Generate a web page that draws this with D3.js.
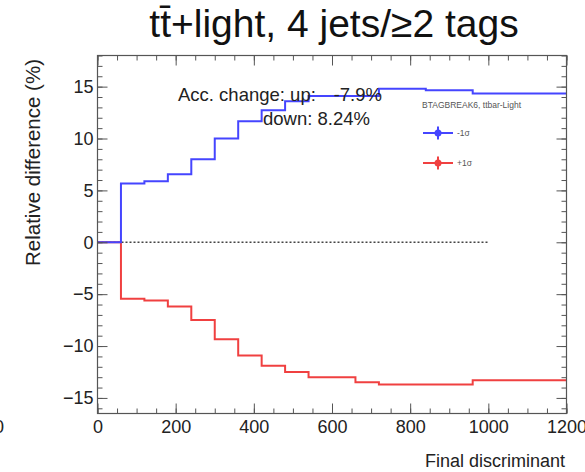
<!DOCTYPE html>
<html>
<head>
<meta charset="utf-8">
<script src="https://cdn.jsdelivr.net/npm/d3@7"></script>
<style>
  html, body { margin: 0; padding: 0; background: #fff; }
  svg { display: block; }
  text { font-family: "Liberation Sans", Arial, Helvetica, sans-serif; }
</style>
</head>
<body>
<svg id="chart" width="585" height="472"></svg>
<script>
// ---------- data ----------
const binEdges = [0, 60, 120, 180, 240, 300, 360, 420, 480, 540, 600, 660, 720, 780, 840, 900, 960, 1020, 1080, 1140, 1200];
const minusSigma = [0, 5.66, 5.88, 6.56, 8.0, 10.0, 11.67, 12.73, 13.6, 14.1, 14.1, 14.1, 14.8, 14.8, 14.65, 14.65, 14.35, 14.35, 14.35, 14.35];
const plusSigma  = [0, -5.43, -5.6, -6.2, -7.5, -9.35, -10.9, -11.9, -12.5, -13.0, -13.0, -13.5, -13.7, -13.7, -13.7, -13.7, -13.3, -13.3, -13.3, -13.3];
const xTicks = [0, 200, 400, 600, 800, 1000, 1200];
const yTicks = [-15, -10, -5, 0, 5, 10, 15];
const zeroLineRange = [0, 1000];
const titleText = "tt\u0304+light, 4 jets/\u22652 tags";
const xTitle = "Final discriminant";
const yTitle = "Relative difference (%)";
const accUpLabel = "Acc. change: up:";
const accUpValue = "-7.9%";
const accDownLabel = "down: 8.24%";
const legendTitle = "BTAGBREAK6, ttbar-Light";
const legendLabels = ["-1\u03c3", "+1\u03c3"];

// ---------- layout ----------
const L = 97.5, R = 566.5, T = 55.5, B = 413.5;
const svg = d3.select("#chart");
const x = d3.scaleLinear().domain([0, 1200]).range([L, R]);
const y = d3.scaleLinear().domain([-16.5, 18]).range([B, T]);
const blue = "#4545ff", red = "#f04040", axisCol = "#555";

// title
svg.append("text").attr("x", 334).attr("y", 37).attr("text-anchor", "middle")
  .attr("font-size", 39).attr("fill", "#111").text(titleText);

// zero dotted line
svg.append("line")
  .attr("x1", x(zeroLineRange[0])).attr("x2", x(zeroLineRange[1]))
  .attr("y1", y(0)).attr("y2", y(0))
  .attr("stroke", "#444").attr("stroke-width", 1.4).attr("stroke-dasharray", "2,2");

// step lines
function stepPts(vals) {
  const p = vals.map((v, i) => [binEdges[i], v]);
  p.push([binEdges[binEdges.length - 1], vals[vals.length - 1]]);
  return p;
}
const stepLine = d3.line().x(d => x(d[0])).y(d => y(d[1])).curve(d3.curveStepAfter);
svg.append("path").datum(stepPts(plusSigma)).attr("d", stepLine)
  .attr("fill", "none").attr("stroke", red).attr("stroke-width", 2);
svg.append("path").datum(stepPts(minusSigma)).attr("d", stepLine)
  .attr("fill", "none").attr("stroke", blue).attr("stroke-width", 2);

// axes
const xMinor = d3.range(0, 1201, 50);
const yMinor = d3.range(-16, 19, 1);
function styleAxis(g) {
  g.select(".domain").remove();
  g.selectAll(".tick line").attr("stroke", axisCol).attr("stroke-width", 1);
  g.selectAll("text").attr("fill", "#222").attr("font-size", 18);
}
// bottom major with labels
svg.append("g").attr("transform", `translate(0,${B})`)
  .call(d3.axisBottom(x).tickValues(xTicks).tickFormat(d3.format("d")).tickSizeInner(-10).tickSizeOuter(0).tickPadding(7))
  .call(styleAxis);
svg.append("g").attr("transform", `translate(0,${B})`)
  .call(d3.axisBottom(x).tickValues(xMinor).tickFormat("").tickSizeInner(-5).tickSizeOuter(0))
  .call(styleAxis);
// top
svg.append("g").attr("transform", `translate(0,${T})`)
  .call(d3.axisTop(x).tickValues(xTicks).tickFormat("").tickSizeInner(-10).tickSizeOuter(0))
  .call(styleAxis);
svg.append("g").attr("transform", `translate(0,${T})`)
  .call(d3.axisTop(x).tickValues(xMinor).tickFormat("").tickSizeInner(-5).tickSizeOuter(0))
  .call(styleAxis);
// left major with labels
svg.append("g").attr("transform", `translate(${L},0)`)
  .call(d3.axisLeft(y).tickValues(yTicks).tickFormat(d3.format("d")).tickSizeInner(-10).tickSizeOuter(0).tickPadding(4))
  .call(styleAxis);
svg.append("g").attr("transform", `translate(${L},0)`)
  .call(d3.axisLeft(y).tickValues(yMinor).tickFormat("").tickSizeInner(-5).tickSizeOuter(0))
  .call(styleAxis);
// right
svg.append("g").attr("transform", `translate(${R},0)`)
  .call(d3.axisRight(y).tickValues(yTicks).tickFormat("").tickSizeInner(-10).tickSizeOuter(0))
  .call(styleAxis);
svg.append("g").attr("transform", `translate(${R},0)`)
  .call(d3.axisRight(y).tickValues(yMinor).tickFormat("").tickSizeInner(-5).tickSizeOuter(0))
  .call(styleAxis);

// frame
svg.append("rect").attr("x", L).attr("y", T).attr("width", R - L).attr("height", B - T)
  .attr("fill", "none").attr("stroke", axisCol).attr("stroke-width", 1.2);

// axis titles
svg.append("text").attr("x", 565).attr("y", 467).attr("text-anchor", "end")
  .attr("font-size", 18).attr("fill", "#222").text(xTitle);
svg.append("text").attr("transform", "translate(40,162.5) rotate(-90)").attr("text-anchor", "middle")
  .attr("font-size", 20.5).attr("fill", "#222").text(yTitle);

// stray partial label at far left edge (as in the reference)
svg.append("text").attr("x", -6).attr("y", 433).attr("font-size", 18).attr("fill", "#222").text("0");

// annotations
svg.append("text").attr("x", 178).attr("y", 101).attr("font-size", 18.5).attr("fill", "#222").text(accUpLabel);
svg.append("text").attr("x", 382).attr("y", 101).attr("text-anchor", "end").attr("font-size", 18.5).attr("fill", "#222").text(accUpValue);
svg.append("text").attr("x", 263).attr("y", 125).attr("font-size", 18.5).attr("fill", "#222").text(accDownLabel);

// legend
svg.append("text").attr("x", 422).attr("y", 108).attr("font-size", 8.5).attr("fill", "#555").text(legendTitle);
const legColors = [blue, red];
const legY = [133, 163];
legendLabels.forEach((lab, i) => {
  const g = svg.append("g");
  g.append("line").attr("x1", 423).attr("x2", 453).attr("y1", legY[i]).attr("y2", legY[i])
    .attr("stroke", legColors[i]).attr("stroke-width", 2);
  g.append("line").attr("x1", 438).attr("x2", 438).attr("y1", legY[i] - 6.5).attr("y2", legY[i] + 6.5)
    .attr("stroke", legColors[i]).attr("stroke-width", 2);
  g.append("circle").attr("cx", 438).attr("cy", legY[i]).attr("r", 3.5).attr("fill", legColors[i]);
  g.append("text").attr("x", 457).attr("y", legY[i] + 3).attr("font-size", 8.5).attr("fill", "#555").text(lab);
});
</script>
</body>
</html>
